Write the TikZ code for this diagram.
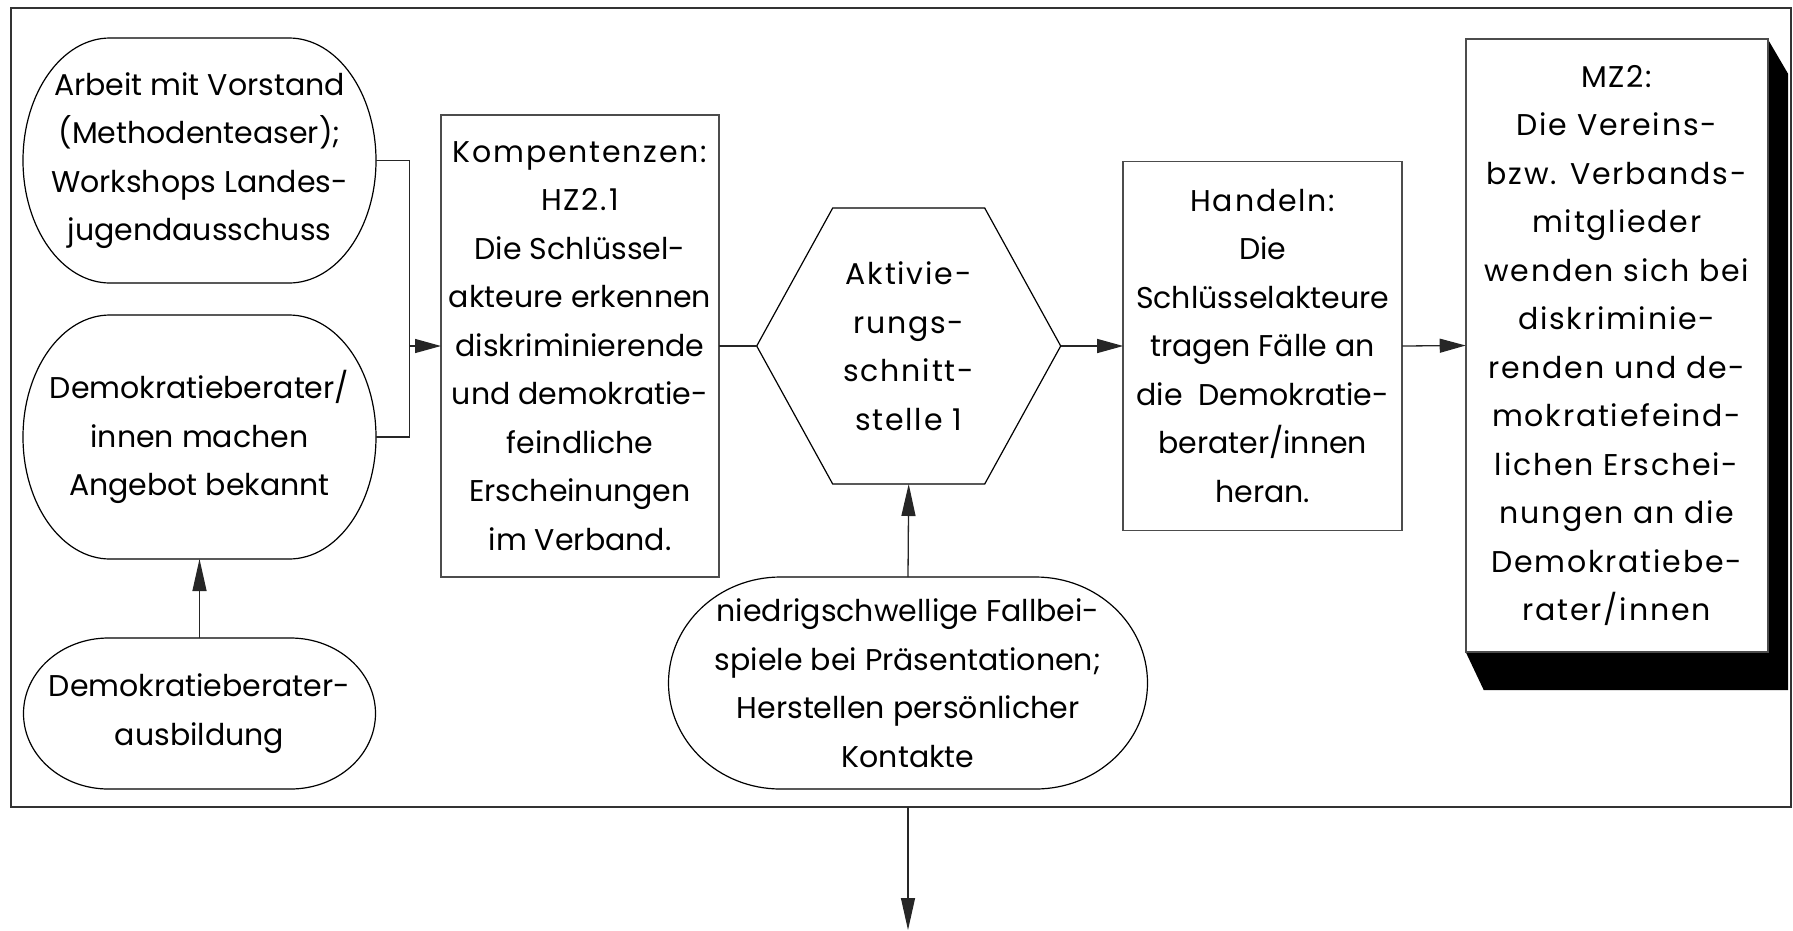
\documentclass[tikz,border=0pt]{standalone}
\usepackage{fontspec}
\setmainfont{Poppins}
\newfontfamily\spfam{Poppins}[LetterSpace=6]
\usetikzlibrary{calc,arrows.meta}
\newcommand\normaltext{\fontsize{30}{48.5}\selectfont}
\newcommand\stadiumline[3]{%
  \draw[shp] ($(#1.north west)+(#2,0)$) -- ($(#1.north east)+(-#2,0)$)
    arc[start angle=90,end angle=-90,x radius=#2 pt,y radius=#3 pt]
    -- ($(#1.south west)+(#2,0)$)
    arc[start angle=270,end angle=90,x radius=#2 pt,y radius=#3 pt] -- cycle;}
\tikzset{
  shp/.style={draw=black, line width=1.2pt},
  tnode/.style={inner sep=0pt, outer sep=0pt, align=center, font=\normaltext},
  boxnode/.style={tnode, draw=black!70, line width=1.6pt},
  conn/.style={line width=1.3pt, draw=black!85},
  arrH/.style={conn, -{Triangle[length=26pt,width=14pt]}},
  arrV/.style={conn, -{Triangle[length=32pt,width=14pt]}},
}
\begin{document}
\begin{tikzpicture}[x=1pt,y=-1pt]
\useasboundingbox (0,0) rectangle (1793,930);
% outer frame
\node[draw=black!80, line width=1.6pt, minimum width=1780pt, minimum height=799pt, inner sep=0pt, outer sep=0pt] (frame) at (901,407.5) {};
% left stadium shapes
\node[tnode, minimum width=353pt, minimum height=245pt] (e1) at (199.5,160.5)
  {Arbeit mit Vorstand\\(Methodenteaser);\\Workshops Landes-\\jugendausschuss};
\stadiumline{e1}{87}{122.5}
\node[tnode, minimum width=353pt, minimum height=244pt] (e2) at (199.5,437)
  {Demokratieberater/\\innen machen\\Angebot bekannt};
\stadiumline{e2}{87}{122}
\node[tnode, minimum width=352pt, minimum height=151pt] (e3) at (199.5,713.5)
  {Demokratieberater-\\ausbildung};
\stadiumline{e3}{85}{75.5}
% competence box
\node[boxnode, minimum width=278pt, minimum height=462pt] (komp) at (580,346)
  {{\spfam Kompentenzen:}\\{\spfam HZ2.1}\\Die Schlüssel-\\akteure erkennen\\diskriminierende\\und demokratie-\\feindliche\\Erscheinungen\\im Verband.};
% hexagon
\node[tnode, minimum width=304pt, minimum height=276pt] (hex) at (908.7,346)
  {\spfam Aktivie-\\\spfam rungs-\\\spfam schnitt-\\\spfam stelle 1};
\draw[shp] (hex.west) -- ($(hex.north west)!0.25!(hex.north east)$) -- ($(hex.north west)!0.75!(hex.north east)$)
  -- (hex.east) -- ($(hex.south west)!0.75!(hex.south east)$) -- ($(hex.south west)!0.25!(hex.south east)$) -- cycle;
% bottom stadium
\node[tnode, minimum width=479pt, minimum height=212pt] (fall) at (908,683)
  {niedrigschwellige Fallbei-\\spiele bei Präsentationen;\\Herstellen persönlicher\\Kontakte};
\stadiumline{fall}{112}{106}
% Handeln box
\node[boxnode, minimum width=279pt, minimum height=369pt] (hand) at (1262.7,346)
  {{\spfam Handeln:}\\Die\\Schlüsselakteure\\tragen Fälle an\\die\ \ Demokratie-\\berater/innen\\heran.};
% MZ2 box with shadow
\node[tnode, minimum width=302pt, minimum height=613pt] (mzshape) at (1616.7,345.5) {};
\fill[black] (mzshape.north east) -- ++(20.5,35) -- ($(mzshape.south east)+(20.5,38)$)
  -- ($(mzshape.south west)+(18,38)$) -- (mzshape.south west) -- cycle;
\node[boxnode, fill=white, minimum width=302pt, minimum height=613pt] (mz) at (1616.7,345.5)
  {\spfam MZ2:\\\spfam Die Vereins-\\\spfam bzw. Verbands-\\\spfam mitglieder\\\spfam wenden sich bei\\\spfam diskriminie-\\\spfam renden und de-\\\spfam mokratiefeind-\\\spfam lichen Erschei-\\\spfam nungen an die\\\spfam Demokratiebe-\\\spfam rater/innen};
% connectors
\coordinate (j) at (409.3,346);
\coordinate (bot) at (908,930);
\draw[conn] (e1.east) -| (j);
\draw[conn] (e2.east) -| (j);
\draw[arrH] (j) -- (komp.west);
\draw[arrV] (e3.north) -- (e2.south);
\draw[conn] (komp.east) -- (hex.west);
\draw[arrH] (hex.east) -- (hand.west);
\draw[arrH] (hand.east) -- (mz.west);
\draw[arrV] (fall.north) -- (hex.south);
\draw[arrV] (fall.south |- frame.south) -- (bot);
\end{tikzpicture}
\end{document}
